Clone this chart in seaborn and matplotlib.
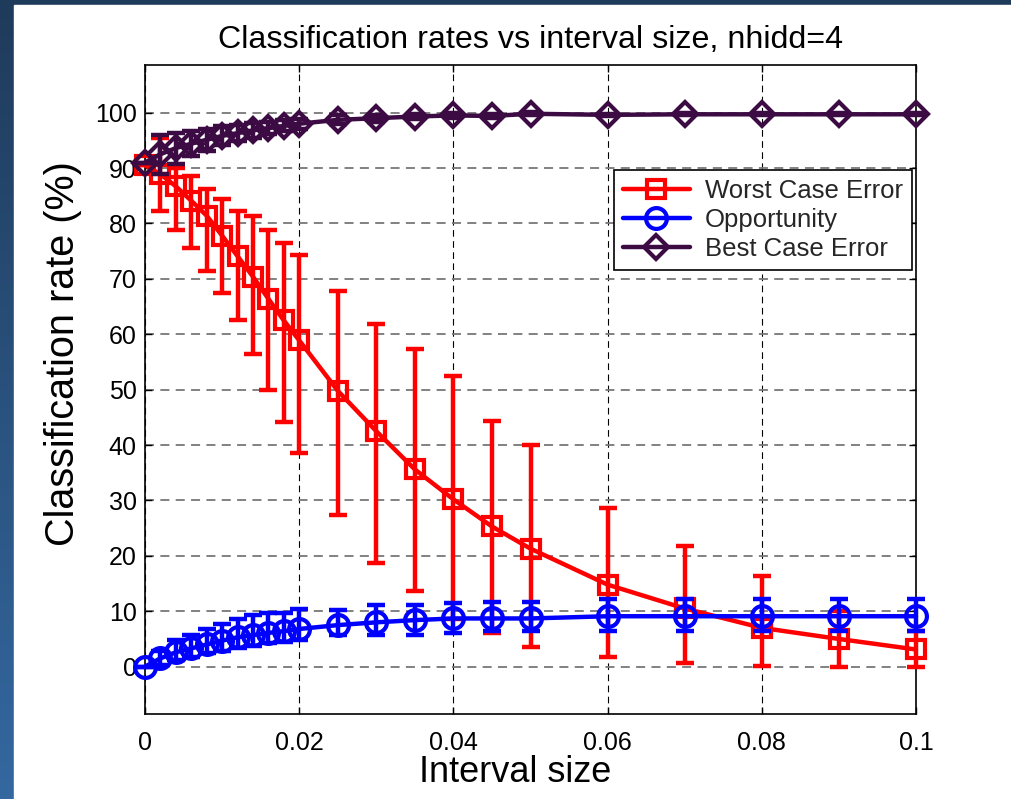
import numpy as np
import pandas as pd
import seaborn as sns
import matplotlib.pyplot as plt
from matplotlib.patches import Rectangle

# values
interval = [0, 0.002, 0.004, 0.006, 0.008, 0.010, 0.012, 0.014, 0.016, 0.018, 0.020,
            0.025, 0.030, 0.035, 0.040, 0.045, 0.050, 0.060, 0.070, 0.080, 0.090, 0.100]

worst = [90.5, 88.9, 86.7, 84.1, 81.4, 77.8, 74.1, 70.4, 66.4, 62.5, 58.9,
         49.8, 42.5, 35.6, 30.2, 25.3, 21.3, 14.8, 10.5, 7.0, 5.0, 3.1]
worst_hi = [90.5, 95.5, 90.0, 88.5, 86.2, 84.5, 82.3, 81.3, 78.8, 76.5, 74.3,
            67.8, 61.9, 57.3, 52.4, 44.4, 40.0, 28.6, 21.7, 16.3, 10.0, 6.5]
worst_lo = [90.5, 82.3, 78.8, 75.5, 71.5, 67.4, 62.6, 56.4, 49.9, 44.1, 38.6,
            27.4, 18.8, 13.7, 8.6, 6.1, 3.6, 1.8, 0.7, 0.1, 0.0, 0.0]

opp = [0, 1.5, 2.6, 3.3, 4.0, 4.7, 5.3, 5.7, 6.1, 6.4, 6.8,
       7.5, 8.0, 8.4, 8.7, 8.7, 8.7, 9.1, 9.1, 9.1, 9.1, 9.1]
opp_hi = [0, 2.8, 4.9, 5.8, 6.8, 7.7, 8.6, 9.3, 9.7, 9.7, 10.4,
          10.3, 11.2, 11.2, 11.4, 11.7, 11.7, 12.3, 12.3, 12.3, 12.3, 12.3]
opp_lo = [0, 0.3, 1.2, 1.8, 2.4, 2.9, 3.4, 3.8, 4.2, 4.5, 4.8,
          5.8, 5.8, 5.8, 6.1, 6.5, 6.5, 6.5, 6.5, 6.5, 6.5, 6.5]

best = [91.0, 92.5, 93.6, 94.4, 95.1, 95.8, 96.3, 96.8, 97.2, 97.6, 98.0,
        98.7, 99.0, 99.3, 99.5, 99.4, 99.8, 99.6, 99.7, 99.7, 99.7, 99.7]
best_err = [0, 3.5, 2.8, 2.3, 2.0, 1.7, 1.5, 1.3, 1.1, 1.0, 0.9,
            0.8, 0.6, 0.5, 0.4, 0.4, 0.3, 0.2, 0.2, 0.2, 0.2, 0.2]

x_ticks = [0, 0.02, 0.04, 0.06, 0.08, 0.1]
x_labels = ["0", "0.02", "0.04", "0.06", "0.08", "0.1"]
y_ticks = list(range(0, 101, 10))

sns.set_theme(style="white")
plt.rcParams['font.family'] = ['Liberation Sans', 'DejaVu Sans']

fig = plt.figure(figsize=(10.12, 7.99), dpi=100)

# slide background: blue strip on the left and top, white page
bg = fig.add_axes([0, 0, 1, 1], zorder=-10)
grad = np.linspace(0, 1, 256).reshape(-1, 1)
bg.imshow(grad, aspect='auto', extent=[0, 1, 0, 1],
          cmap=sns.blend_palette(['#1f3b5b', '#3468a0'], as_cmap=True))
bg.add_patch(Rectangle((14 / 1012, 0), 1, 1 - 5 / 799, color='white'))
bg.set_xlim(0, 1)
bg.set_ylim(0, 1)
bg.axis('off')

ax = fig.add_axes([145 / 1012, 1 - 714.3 / 799, 771 / 1012, 649.3 / 799])
ax.set_facecolor('white')

df = pd.DataFrame({'interval': interval, 'worst': worst, 'opp': opp, 'best': best})

series = [
    ('worst', 'Worst Case Error', '#ff0000', 's', 13,
     [np.array(worst) - np.array(worst_lo), np.array(worst_hi) - np.array(worst)]),
    ('opp', 'Opportunity', '#0000ff', 'o', 15,
     [np.array(opp) - np.array(opp_lo), np.array(opp_hi) - np.array(opp)]),
    ('best', 'Best Case Error', '#3c0b43', 'D', 12,
     [np.array(best_err), np.array(best_err)]),
]

handles = []
z = 3
for col, label, color, marker, ms, err in series:
    ax.errorbar(df['interval'], df[col], yerr=err, fmt='none', ecolor=color,
                elinewidth=3.2, capsize=6.5, capthick=3.2, clip_on=False, zorder=z)
    sns.lineplot(data=df, x='interval', y=col, ax=ax, color=color, linewidth=3.2,
                 marker=marker, markersize=ms, markerfacecolor='none',
                 markeredgecolor=color, markeredgewidth=3.0, clip_on=False,
                 label=label, zorder=z + 0.5)
    handles.append(ax.lines[-1])
    z += 1

ax.set_xlim(0, 0.1)
ax.set_ylim(-8.6, 108.6)
ax.set_xticks(x_ticks)
ax.set_xticklabels(x_labels)
ax.set_yticks(y_ticks)
ax.tick_params(axis='both', which='both', direction='in', length=5, width=1,
               labelsize=18, colors='black', top=True, right=True, bottom=True, left=True)
ax.tick_params(axis='x', pad=12)
ax.tick_params(axis='y', pad=6)

ax.yaxis.grid(True, color='#777777', linewidth=1.3, linestyle=(0, (5, 3.5)))
ax.xaxis.grid(True, color='black', linewidth=0.8, linestyle=(0, (6, 4)))
ax.set_axisbelow(True)

for s in ax.spines.values():
    s.set_color('black')
    s.set_linewidth(1.2)

ax.set_title('Classification rates vs interval size, nhidd=4', fontsize=23.2, pad=12, color='black')
ax.set_xlabel('Interval size', fontsize=26, color='black')
ax.set_ylabel('Classification rate (%)', fontsize=28.5, color='black')
ax.xaxis.set_label_coords(0.48, -0.062)
ax.yaxis.set_label_coords(-0.082, 0.555)

leg = ax.legend(handles=handles, labels=[s[1] for s in series], loc='upper right',
                bbox_to_anchor=(0.995, 0.838), fontsize=18.5, frameon=True,
                fancybox=False, shadow=False, framealpha=1, edgecolor='black',
                handlelength=2.6, handletextpad=0.6, labelspacing=0.2,
                borderpad=0.35, borderaxespad=0)
leg.get_frame().set_linewidth(1.2)

fig.savefig('out.png', dpi=100)
